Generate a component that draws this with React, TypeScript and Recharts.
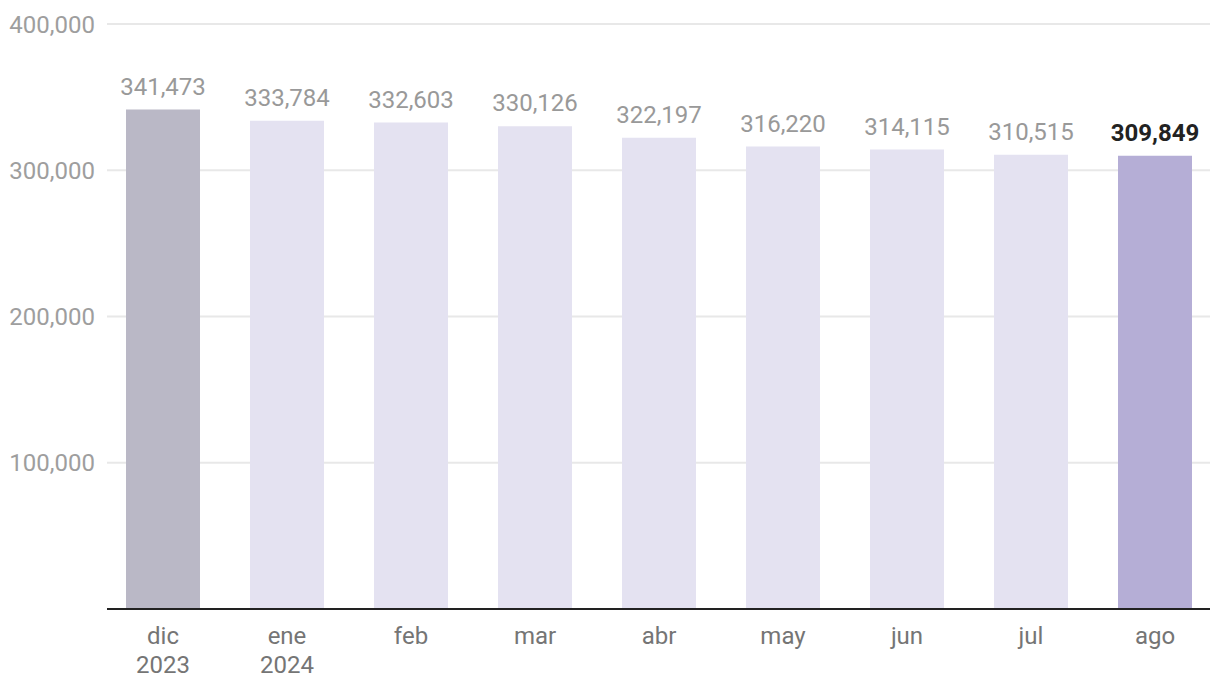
import React from "react"
import { BarChart, Bar, XAxis, YAxis, CartesianGrid, Cell, LabelList } from "recharts"

const months = ["dic 2023", "ene 2024", "feb", "mar", "abr", "may", "jun", "jul", "ago"]
const values = [341473, 333784, 332603, 330126, 322197, 316220, 314115, 310515, 309849]
const yTicks = [100000, 200000, 300000, 400000]

const data = months.map((m, i) => ({ month: m, value: values[i] }))

const FONT = "Roboto, 'Noto Sans', sans-serif"
const fmt = (v: number) => v.toLocaleString("en-US")

const barColor = (i: number) => {
    if (i === 0) return "#bab8c6"
    if (i === months.length - 1) return "#b5aed6"
    return "#e4e2f1"
}

function MonthTick(props: any) {
    const { x, y, payload } = props
    const parts = String(payload.value).split(" ")
    return (
        <text x={x} y={y} textAnchor="middle" fill="#757575" fontSize={24} fontFamily={FONT}>
            {parts.map((p: string, i: number) => (
                <tspan key={i} x={x} dy={i === 0 ? 35 : 29}>{p}</tspan>
            ))}
        </text>
    )
}

function ValueLabel(props: any) {
    const { x, y, width, value, index } = props
    const last = index === months.length - 1
    return (
        <text
            x={x + width / 2}
            y={y - 15}
            textAnchor="middle"
            fill={last ? "#222222" : "#999999"}
            fontWeight={last ? 700 : 400}
            fontSize={24}
            fontFamily={FONT}
        >
            {fmt(value)}
        </text>
    )
}

export default function App() {
    return (
        <div style={{ position: "absolute", left: 0, top: 0, background: "#fff" }}>
            <BarChart
                width={1220}
                height={696}
                data={data}
                margin={{ top: 24, right: 10, bottom: 0, left: 0 }}
            >
                <CartesianGrid vertical={false} stroke="#e8e8e8" strokeWidth={2} />
                <XAxis
                    dataKey="month"
                    tick={<MonthTick />}
                    tickLine={false}
                    axisLine={{ stroke: "#222", strokeWidth: 2 }}
                    padding={{ left: -6, right: -7 }}
                    height={87}
                    tickSize={0}
                    tickMargin={0}
                    interval={0}
                />
                <YAxis
                    domain={[0, 400000]}
                    ticks={yTicks}
                    width={107}
                    tickFormatter={fmt}
                    axisLine={false}
                    tickLine={false}
                    tickSize={0}
                    tickMargin={12}
                    tick={{ fill: "#9e9e9e", fontSize: 24, fontFamily: FONT }}
                />
                <Bar dataKey="value" barSize={74} isAnimationActive={false}>
                    {data.map((d, i) => (
                        <Cell key={d.month} fill={barColor(i)} />
                    ))}
                    <LabelList dataKey="value" content={<ValueLabel />} />
                </Bar>
            </BarChart>
        </div>
    )
}
